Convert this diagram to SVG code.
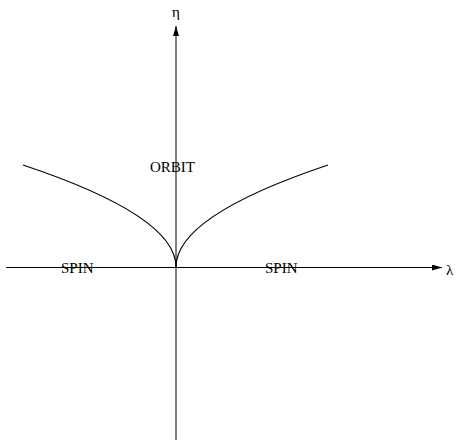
<svg xmlns="http://www.w3.org/2000/svg" width="456" height="441" viewBox="0 0 456 441">
<style>
.ax{stroke:#000;stroke-width:1;fill:none}
.cv{stroke:#000;stroke-width:1.2;fill:none}
text{font-family:"Liberation Serif","Times New Roman",serif;font-size:15px;fill:#000}
</style>
<defs>
<marker id="ah" markerWidth="10" markerHeight="6" refX="10" refY="3" orient="auto" markerUnits="userSpaceOnUse">
<path d="M0,0 L10,3 L0,6 Z" fill="#000"/>
</marker>
</defs>
<rect width="456" height="441" fill="#fff"/>
<g id="connectors">
<line class="ax" x1="176" y1="440" x2="176" y2="26" marker-end="url(#ah)"/>
<line class="ax" x1="6" y1="267.5" x2="442" y2="267.5" marker-end="url(#ah)"/>
<path class="cv" d="M176,267 Q176,216 328,165"/>
<path class="cv" d="M176,267 Q176,216 23,165"/>
</g>
<g id="label-eta"><text x="172" y="17">η</text></g>
<g id="label-lambda"><text x="446" y="275">λ</text></g>
<g id="label-orbit"><text x="150" y="172">ORBIT</text></g>
<g id="label-spin-left"><text x="61" y="273">SPIN</text></g>
<g id="label-spin-right"><text x="265" y="273">SPIN</text></g>
</svg>
